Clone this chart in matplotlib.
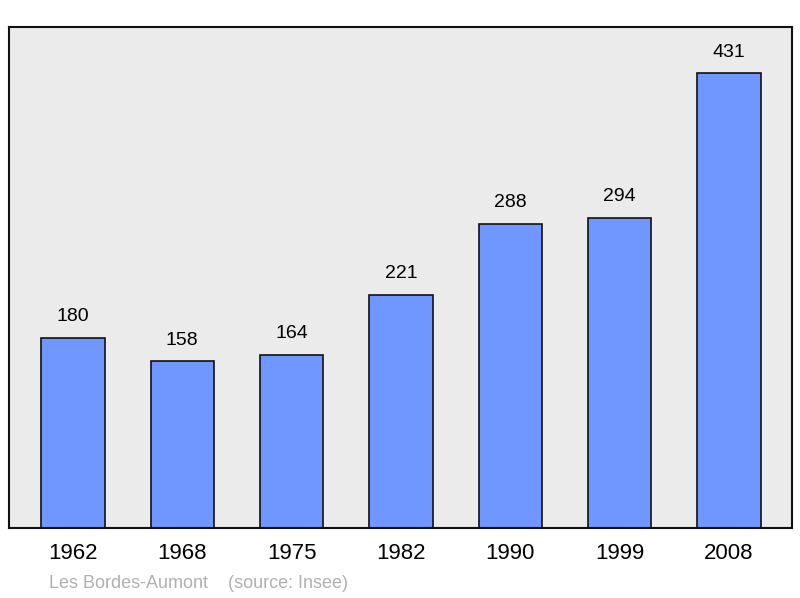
import matplotlib
matplotlib.use("Agg")
import matplotlib.pyplot as plt

years = ["1962", "1968", "1975", "1982", "1990", "1999", "2008"]
population = [180, 158, 164, 221, 288, 294, 431]

plt.rcParams['font.family'] = ['Liberation Sans', 'DejaVu Sans']
fig = plt.figure(figsize=(8.0, 5.98), dpi=100)
ax = fig.add_axes([9/800, 1-528/598, 783/800, 501/598])
ax.set_facecolor('#ebebeb')
x = list(range(len(years)))
ax.bar(x, population, width=0.58, color='#7096ff', edgecolor='#111111', linewidth=1.2, zorder=2)
for xi, v in zip(x, population):
    ax.annotate(str(v), (xi, v), xytext=(0, 9), textcoords='offset points',
                ha='center', va='bottom', fontsize=14)
ax.set_xlim(-0.585, 6.576)
ax.set_ylim(0, 474.6)
ax.set_yticks([])
ax.set_xticks(x)
ax.set_xticklabels(years, fontsize=16)
ax.tick_params(axis='x', length=0, pad=11)
for s in ax.spines.values():
    s.set_linewidth(1.5)
    s.set_color('#111111')
fig.text(49/800, 1-584/598, "Les Bordes-Aumont    (source: Insee)", color='#b0b0b0',
         fontsize=13, va='center', ha='left')
fig.savefig('out.png', dpi=100, facecolor='white')
